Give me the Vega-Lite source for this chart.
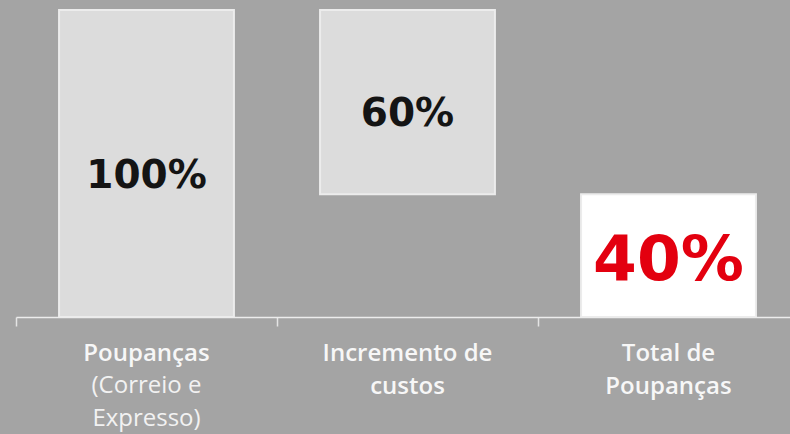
{
  "$schema": "https://vega.github.io/schema/vega-lite/v6.json",
  "width": 774,
  "height": 307,
  "autosize": "none",
  "padding": {"left": 16, "top": 10, "right": 0, "bottom": 117},
  "background": "#a4a4a4",
  "config": {"view": {"stroke": null}, "font": "Open Sans"},
  "data": {
    "values": [
      {"cat": "Poupanças", "start": 0, "end": 100, "value": "100%", "kind": "base", "sub": "(Correio e|Expresso)"},
      {"cat": "Incremento de|custos", "start": 40, "end": 100, "value": "60%", "kind": "base", "sub": ""},
      {"cat": "Total de|Poupanças", "start": 0, "end": 40, "value": "40%", "kind": "total", "sub": ""}
    ]
  },
  "transform": [{"calculate": "(datum.start + datum.end) / 2", "as": "mid"}],
  "encoding": {
    "x": {
      "field": "cat",
      "type": "nominal",
      "sort": null,
      "scale": {"range": [0, 783], "paddingInner": 0.33, "paddingOuter": 0.165},
      "axis": {
        "title": null,
        "labelAngle": 0,
        "bandPosition": -0.246,
        "domainColor": "#ececec",
        "domainWidth": 1.5,
        "tickColor": "#e4e4e4",
        "tickWidth": 1.5,
        "tickSize": 9,
        "labelColor": "#f7f7f7",
        "labelFont": "Open Sans",
        "labelFontSize": 24,
        "labelFontWeight": 600,
        "labelPadding": 15,
        "labelLineHeight": 33,
        "labelExpr": "split(datum.label, '|')",
        "grid": false
      }
    }
  },
  "layer": [
    {
      "mark": {"type": "bar", "stroke": "#ececec", "strokeWidth": 2},
      "encoding": {
        "y": {"field": "start", "type": "quantitative", "scale": {"domain": [0, 100], "nice": false}, "axis": null},
        "y2": {"field": "end"},
        "fill": {"condition": {"test": "datum.kind == 'total'", "value": "#ffffff"}, "value": "#dcdcdc"}
      }
    },
    {
      "mark": {"type": "text", "font": "DejaVu Sans", "fontWeight": "bold", "baseline": "alphabetic", "dy": 24},
      "encoding": {
        "y": {"field": "mid", "type": "quantitative"},
        "text": {"field": "value"},
        "color": {"condition": {"test": "datum.kind == 'total'", "value": "#e3000f"}, "value": "#141414"},
        "size": {"condition": {"test": "datum.kind == 'total'", "value": 63}, "value": 39}
      }
    },
    {
      "mark": {"type": "text", "baseline": "top", "dy": 57, "lineBreak": "|", "fontSize": 24, "lineHeight": 33, "color": "#f2f2f2"},
      "encoding": {
        "y": {"datum": 0, "type": "quantitative"},
        "text": {"field": "sub"}
      }
    }
  ]
}
